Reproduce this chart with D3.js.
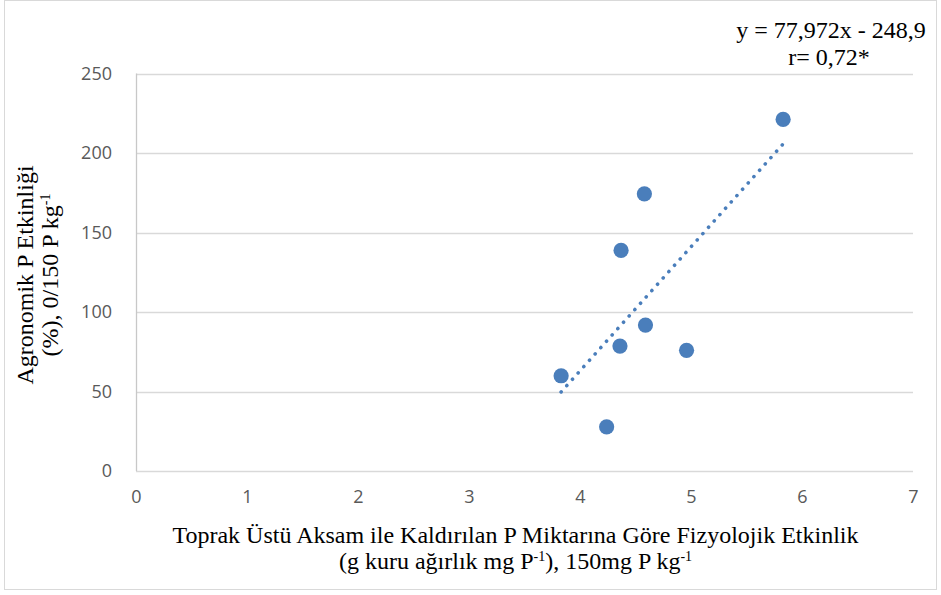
<!DOCTYPE html>
<html><head><meta charset="utf-8">
<script src="https://cdn.jsdelivr.net/npm/d3@7"></script>
<style>body{margin:0;background:#fff}svg{display:block}</style>
</head><body>
<svg id="c" width="941" height="595"></svg>
<script>
const xValues = [3.83, 4.24, 4.36, 4.37, 4.58, 4.59, 4.96, 5.83];
const yValues = [59.9, 27.8, 78.6, 138.7, 174.3, 91.8, 75.9, 221.1];
const xTicks = [0, 1, 2, 3, 4, 5, 6, 7];
const yTicks = [0, 50, 100, 150, 200, 250];
const slope = 77.972, intercept = -248.9;
const eqLabel = "y = 77,972x - 248,9";
const rLabel = "r= 0,72*";

const svg = d3.select("#c");
const W = 941, H = 595;
const m = {left: 136, right: 28, top: 73.5, bottom: 124};
const x = d3.scaleLinear().domain([0, 7]).range([m.left, W - m.right]);
const y = d3.scaleLinear().domain([0, 250]).range([H - m.bottom, m.top]);

svg.append("rect").attr("x", 4.5).attr("y", 0.5).attr("width", 932).attr("height", 589)
  .attr("fill", "#fff").attr("stroke", "#d9d9d9").attr("stroke-width", 1);

const tickFont = "'Liberation Sans Narrow','Open Sans',sans-serif";
// gridlines
svg.append("g").selectAll("line").data(yTicks).join("line")
  .attr("x1", x(0)).attr("x2", x(7))
  .attr("y1", d => Math.round(y(d)) + 0.5).attr("y2", d => Math.round(y(d)) + 0.5)
  .attr("stroke", "#d9d9d9").attr("stroke-width", 1.3);
// left axis line
svg.append("line").attr("x1", x(0)+0.5).attr("x2", x(0)+0.5).attr("y1", y(250)).attr("y2", y(0))
  .attr("stroke", "#c8c8c8").attr("stroke-width", 1.3);

// y ticks
const yAxis = d3.axisLeft(y).tickValues(yTicks).tickSize(0).tickPadding(24).tickFormat(d3.format("d"));
const gy = svg.append("g").attr("transform", `translate(${x(0)},0)`).call(yAxis);
gy.select(".domain").remove();
gy.selectAll("text").attr("fill", "#595959").style("font-family", tickFont).style("font-size", "18px");
// x ticks
const xAxis = d3.axisBottom(x).tickValues(xTicks).tickSize(0).tickPadding(19).tickFormat(d3.format("d"));
const gx = svg.append("g").attr("transform", `translate(0,${y(0)})`).call(xAxis);
gx.select(".domain").remove();
gx.selectAll("text").attr("fill", "#595959").style("font-family", tickFont).style("font-size", "18px");

// trendline
const xmin = d3.min(xValues), xmax = d3.max(xValues);
svg.append("line")
  .attr("x1", x(xmin)).attr("y1", y(slope*xmin + intercept))
  .attr("x2", x(xmax)).attr("y2", y(slope*xmax + intercept))
  .attr("stroke", "#4a7ebb").attr("stroke-width", 3.6)
  .attr("stroke-linecap", "round").attr("stroke-dasharray", "0.1,8.4");

// points
svg.append("g").selectAll("circle").data(xValues.map((v, i) => [v, yValues[i]])).join("circle")
  .attr("cx", d => x(d[0])).attr("cy", d => y(d[1])).attr("r", 7.6)
  .attr("fill", "#4a7ebb");

const serif = "'Liberation Serif','Times New Roman',serif";
// equation
svg.append("text").attr("x", 831).attr("y", 38).attr("text-anchor", "middle")
  .style("font-family", serif).style("font-size", "24px").attr("fill", "#000").text(eqLabel);
svg.append("text").attr("x", 829).attr("y", 65).attr("text-anchor", "middle")
  .style("font-family", serif).style("font-size", "24px").attr("fill", "#000").text(rLabel);

// x title
const xt = svg.append("g").style("font-family", serif).style("font-size", "24px").attr("fill", "#000");
xt.append("text").attr("x", 515.5).attr("y", 543).attr("text-anchor", "middle")
  .text("Toprak Üstü Aksam ile Kaldırılan P Miktarına Göre Fizyolojik Etkinlik");
const l2 = xt.append("text").attr("x", 515.5).attr("y", 569).attr("text-anchor", "middle");
l2.append("tspan").text("(g kuru ağırlık mg P");
l2.append("tspan").attr("dy", -8).style("font-size", "14px").text("-1");
l2.append("tspan").attr("dy", 8).text("), 150mg P kg");
l2.append("tspan").attr("dy", -8).style("font-size", "14px").text("-1");

// y title
const yt = svg.append("g").attr("transform", "translate(0,275) rotate(-90)")
  .style("font-family", serif).style("font-size", "24px").attr("fill", "#000");
yt.append("text").attr("x", 0).attr("y", 33).attr("text-anchor", "middle").text("Agronomik P Etkinliği");
const y2 = yt.append("text").attr("x", 0).attr("y", 58).attr("text-anchor", "middle");
y2.append("tspan").text("(%), 0/150 P kg");
y2.append("tspan").attr("dy", -8).style("font-size", "14px").text("-1");
</script>
</body></html>
